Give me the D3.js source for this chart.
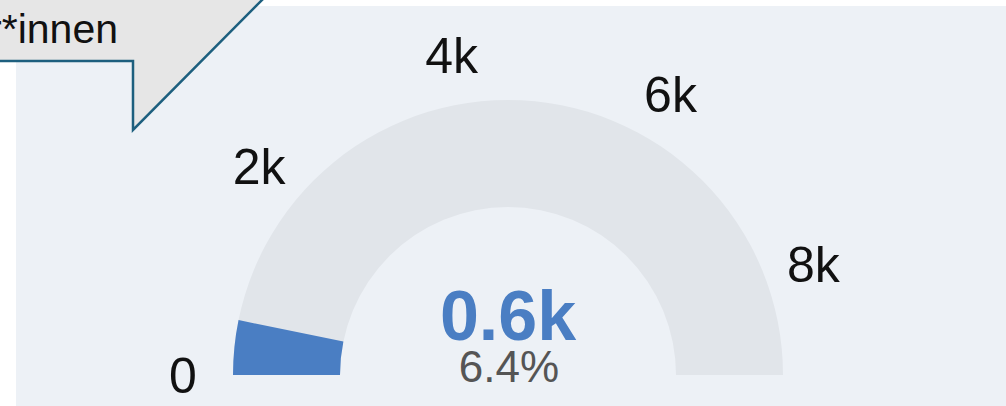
<!DOCTYPE html>
<html>
<head>
<meta charset="UTF-8">
<title></title>
<style type="text/css">
	body { margin: 0; background: #fff; }
	svg { display: block; font-family: "Liberation Sans", Arial, Helvetica, sans-serif; }
</style>
</head>
<body>
<div class="box"></div>
<script src="https://cdn.jsdelivr.net/npm/d3@7/dist/d3.min.js"></script>
<script type="text/javascript">
	// gauge data
	var tickValues = [0, 2000, 4000, 6000, 8000];
	var tickLabels = ["0", "2k", "4k", "6k", "8k"];
	var gaugeMax = [9000];
	var gaugeValue = [576];
	var valueLabel = ["0.6k"];
	var percentLabel = ["6.4%"];
	var calloutText = ["Mitarbeiter*innen"];

	var width = 1006, height = 406;
	var cx = 508, cy = 375;
	var rOuter = 275, rInner = 168, rLabel = 325;

	var svg = d3.select(".box").append("svg")
		.attr("width", width)
		.attr("height", height);

	// panel
	svg.append("rect")
		.attr("x", 16).attr("y", 6)
		.attr("width", width - 16).attr("height", height - 6)
		.attr("fill", "#edf1f6");

	var angle = d3.scaleLinear()
		.domain([0, gaugeMax[0]])
		.range([-Math.PI / 2, Math.PI / 2]);

	var arc = d3.arc()
		.innerRadius(rInner)
		.outerRadius(rOuter);

	var g = svg.append("g").attr("transform", "translate(" + cx + "," + cy + ")");

	// track
	g.append("path")
		.attr("d", arc({ startAngle: angle(0), endAngle: angle(gaugeMax[0]) }))
		.attr("fill", "#e1e5ea");

	// value
	g.append("path")
		.attr("d", arc({ startAngle: angle(0), endAngle: angle(gaugeValue[0]) }))
		.attr("fill", "#4a7ec3");

	// tick labels
	g.selectAll("text.tick")
		.data(tickValues)
		.enter()
		.append("text")
		.attr("class", "tick")
		.attr("x", function(d) { return rLabel * Math.sin(angle(d)); })
		.attr("y", function(d) { return -rLabel * Math.cos(angle(d)); })
		.attr("text-anchor", "middle")
		.attr("dy", "0.36em")
		.attr("font-size", 50)
		.attr("fill", "#111")
		.text(function(d, i) { return tickLabels[i]; });

	// center value
	g.append("text")
		.attr("x", 0).attr("y", -35)
		.attr("text-anchor", "middle")
		.attr("font-size", 70)
		.attr("font-weight", "bold")
		.attr("fill", "#4a7ec3")
		.text(valueLabel[0]);

	g.append("text")
		.attr("x", 1).attr("y", 7)
		.attr("text-anchor", "middle")
		.attr("font-size", 44)
		.attr("fill", "#555")
		.text(percentLabel[0]);

	// callout
	svg.append("path")
		.attr("d", "M-10,-10 L-10,61 L133,61 L133,130 L265,-3 L265,-10 Z")
		.attr("fill", "#e6e6e6");
	svg.append("path")
		.attr("d", "M-10,61 L133,61 L133,130 L265,-3")
		.attr("fill", "none")
		.attr("stroke", "#1d5f7e")
		.attr("stroke-width", 2.5);
	svg.append("text")
		.attr("x", 118).attr("y", 43)
		.attr("text-anchor", "end")
		.attr("font-size", 41)
		.attr("fill", "#111")
		.text(calloutText[0]);
</script>
</body>
</html>
